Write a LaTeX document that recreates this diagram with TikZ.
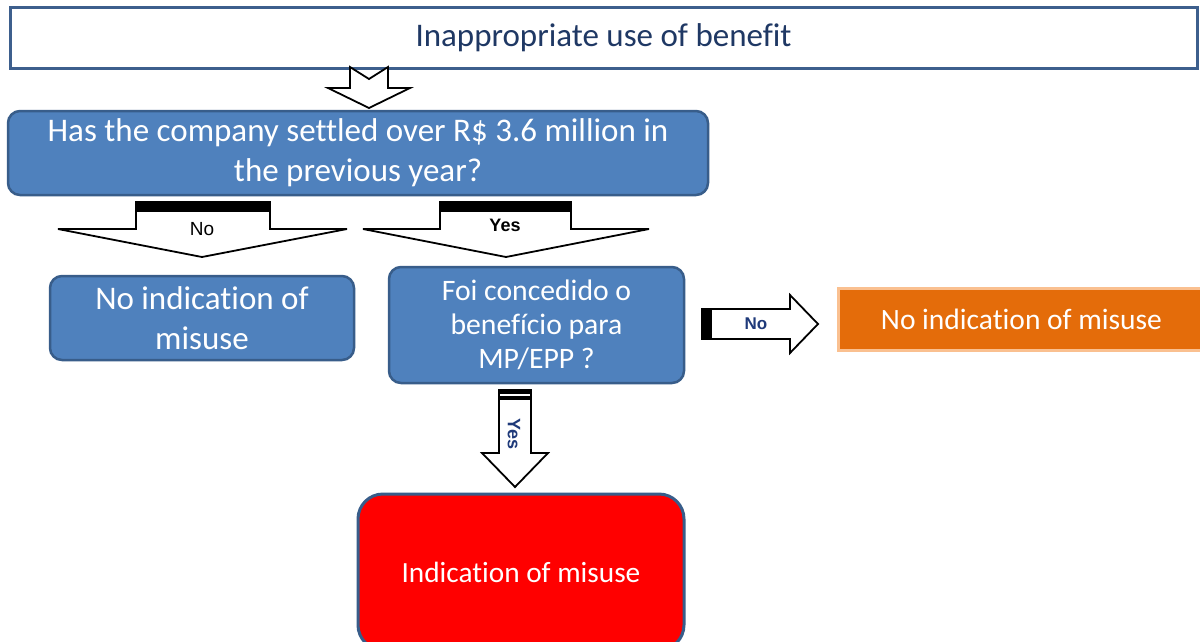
\documentclass[tikz,border=0pt]{standalone}
\usepackage{fontspec}
\setmainfont[Ligatures=NoCommon]{Carlito}
\newfontfamily\arialf{Liberation Sans}
\definecolor{boxblue}{HTML}{4F81BD}
\definecolor{boxborder}{HTML}{385D8A}
\definecolor{topborder}{HTML}{3D5F8D}
\definecolor{titleblue}{HTML}{1F3864}
\definecolor{labelblue}{HTML}{1F3A7A}
\definecolor{orangefill}{HTML}{E46C0A}
\definecolor{orangeborder}{HTML}{FAC090}
\definecolor{redfill}{HTML}{FF0000}
\begin{document}
\begin{tikzpicture}[x=1pt,y=-1pt,
  bluebox/.style={draw=boxborder, line width=2.5pt, fill=boxblue, rounded corners=12pt,
    text=white, align=center, inner sep=0pt},
  blockarrow/.style={draw=black, line width=1.8pt, fill=white, line join=miter},
  band/.style={fill=black},
  arrowlabel/.style={inner sep=0pt, font=\arialf\fontsize{19}{22}\selectfont}
]
\useasboundingbox (0,0) rectangle (1200,641);
\fill[white] (0,0) rectangle (1200,641);

% Title box
\node[draw=topborder, line width=3pt, fill=white, minimum width=1187pt, minimum height=61pt,
  inner sep=0pt, text=titleblue, font=\fontsize{33}{38}\selectfont] (title) at (603.5,37.5)
  {Inappropriate use of benefit};

% Question 1
\node[bluebox, minimum width=700pt, minimum height=84pt, font=\fontsize{33}{40}\selectfont]
  (q1) at (358,153) {Has the company settled over R\$ 3.6 million in\\the previous year?};

% Left result
\node[bluebox, minimum width=304pt, minimum height=84pt, font=\fontsize{33}{40}\selectfont]
  (noind1) at (202,318) {No indication of\\misuse};

% Question 2
\node[bluebox, minimum width=295pt, minimum height=116pt, font=\fontsize{29.7}{34}\selectfont]
  (q2) at (536.5,325) {Foi concedido o\\benefício para\\MP/EPP ?};

% Orange result
\node[draw=orangeborder, line width=3pt, fill=orangefill, minimum width=367pt, minimum height=62pt,
  inner sep=0pt, text=white, font=\fontsize{29.5}{32}\selectfont] (noind2) at (1021.5,319)
  {No indication of misuse};

% Red result
\node[draw=boxborder, line width=3pt, fill=redfill, rounded corners=25pt, minimum width=326pt,
  minimum height=156pt, inner sep=0pt, text=white, font=\fontsize{29.3}{32}\selectfont]
  (ind) at (521,572) {Indication of misuse};

% Top arrow: title -> q1
\draw[blockarrow] (350,67) -- (369,79) -- (388,67) -- (388,88) -- (410,88) -- (369,108)
  -- (328,88) -- (350,88) -- cycle;

% No arrow (left)
\draw[blockarrow] (136,202) -- (136,229) -- (58,229) -- (202,257) -- (347,229) -- (270,229)
  -- (270,202) -- cycle;
\fill[band] (136,202) rectangle (270,212);
\node[arrowlabel] (lblno1) at (202,229) {No};

% Yes arrow (middle)
\draw[blockarrow] (440,202) -- (440,229) -- (363,229) -- (506,257) -- (649,229) -- (571,229)
  -- (571,202) -- cycle;
\fill[band] (440,202) rectangle (571,212);
\node[arrowlabel, font=\arialf\bfseries\fontsize{18}{22}\selectfont] (lblyes1) at (505,225) {Yes};

% No arrow (right)
\draw[blockarrow] (702,309) -- (790,309) -- (790,295) -- (818,324) -- (790,353) -- (790,339)
  -- (702,339) -- cycle;
\fill[band] (702,309) rectangle (712,339);
\node[arrowlabel, text=labelblue, font=\arialf\bfseries\fontsize{17}{20}\selectfont] (lblno2)
  at (756,324) {No};

% Yes arrow (down)
\draw[blockarrow] (499,390) -- (531,390) -- (531,453) -- (548,453) -- (515,487) -- (482,453)
  -- (499,453) -- cycle;
\fill[band] (499,390) rectangle (531,400);
\draw[white, line width=1.2pt] (500,395) -- (530,395);
\node[arrowlabel, rotate=-90, text=labelblue, font=\arialf\bfseries\fontsize{18}{20}\selectfont]
  (lblyes2) at (514,434) {Yes};
\end{tikzpicture}
\end{document}
